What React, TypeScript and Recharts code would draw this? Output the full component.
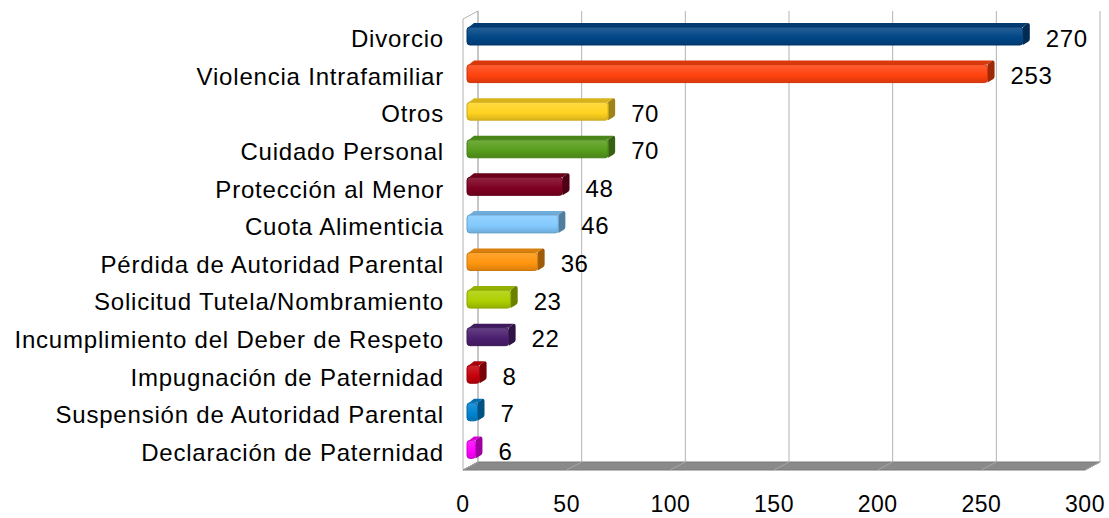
import React from "react";
import {
  BarChart,
  Bar,
  XAxis,
  YAxis,
  LabelList,
  ReferenceArea,
  ReferenceLine,
} from "recharts";

const categories = [
  "Divorcio",
  "Violencia Intrafamiliar",
  "Otros",
  "Cuidado Personal",
  "Protección al Menor",
  "Cuota Alimenticia",
  "Pérdida de Autoridad Parental",
  "Solicitud Tutela/Nombramiento",
  "Incumplimiento del Deber de Respeto",
  "Impugnación de Paternidad",
  "Suspensión de Autoridad Parental",
  "Declaración de Paternidad",
];

const values = [270, 253, 70, 70, 48, 46, 36, 23, 22, 8, 7, 6];

const colors = [
  "#004586",
  "#ff420e",
  "#ffd320",
  "#579d1c",
  "#7e0021",
  "#83caff",
  "#ff950e",
  "#aecf00",
  "#4b1f6f",
  "#c5000b",
  "#0084d1",
  "#ff00ff",
];

const xTicks = [0, 50, 100, 150, 200, 250, 300];

const FONT = "'Liberation Sans', Arial, sans-serif";
const DX = 15; // depth of the walls
const DY = 4;

const data = categories.map((name, i) => ({
  name,
  value: values[i],
  color: colors[i],
  key: "c" + i,
}));

function shade(hex: string, f: number) {
  const n = parseInt(hex.slice(1), 16);
  const r = (n >> 16) & 255;
  const g = (n >> 8) & 255;
  const b = n & 255;
  const mix = (c: number) =>
    f < 1 ? Math.round(c * f) : Math.round(c + (255 - c) * (f - 1));
  return `rgb(${mix(r)},${mix(g)},${mix(b)})`;
}

function Bar3D(props: any) {
  const { x, y, width, height, payload } = props;
  if (!payload) return null;
  const c = payload.color;
  const d = 7;
  const fx = x + 4;
  const fy = y + 4;
  const fw = Math.max(width - 4, 2);
  const fh = height - 4;
  const ex = fx + fw;
  const id = "g" + payload.key;
  return (
    <g>
      <defs>
        <linearGradient id={id} x1="0" y1="0" x2="0" y2="1">
          <stop offset="0%" stopColor={shade(c, 1.15)} />
          <stop offset="60%" stopColor={c} />
          <stop offset="100%" stopColor={shade(c, 0.85)} />
        </linearGradient>
      </defs>
      <polygon
        points={`${fx + 2},${fy} ${fx + d},${y} ${ex + d - 2},${y} ${ex},${fy}`}
        fill={shade(c, 0.85)}
      />
      <path
        d={`M${ex},${fy} L${ex + d - 2},${y} Q${ex + d},${y} ${ex + d},${y + 2} L${ex + d},${y + height - 6} Q${ex + d},${y + height - 4} ${ex + d - 2},${y + height - 3} L${ex},${y + height} Z`}
        fill={shade(c, 0.62)}
      />
      <rect
        x={fx}
        y={fy}
        width={fw}
        height={fh}
        rx={3}
        fill={`url(#${id})`}
        stroke={shade(c, 0.8)}
        strokeWidth={1}
      />
    </g>
  );
}

function Walls(props: any) {
  const { x, y, width, height } = props;
  const b = y + height;
  return (
    <g>
      <polygon
        points={`${x},${y + DY} ${x + DX},${y - DY} ${x + DX},${b - DY} ${x},${b + DY}`}
        fill="#ffffff"
        stroke="#b3b3b3"
        strokeWidth={1}
      />
      <polygon
        points={`${x},${b + DY} ${x + DX},${b - DY} ${x + width + DX},${b - DY} ${x + width},${b + DY}`}
        fill="#8a8a8a"
        stroke="#7a7a7a"
        strokeWidth={1}
      />
    </g>
  );
}

function GridLine(props: any) {
  const { x1, y1, x2, y2 } = props;
  const top = Math.min(y1, y2);
  const bot = Math.max(y1, y2);
  return (
    <g>
      <line
        x1={x1 + DX}
        y1={top - DY}
        x2={x2 + DX}
        y2={bot - DY}
        stroke="#b3b3b3"
        strokeWidth={1}
      />
      <line
        x1={x1}
        y1={bot + DY}
        x2={x1 + DX}
        y2={bot - DY}
        stroke="#a6a6a6"
        strokeWidth={1}
      />
    </g>
  );
}

function CategoryTick(props: any) {
  const { x, y, payload } = props;
  return (
    <text
      x={x}
      y={y + 5}
      dy="0.355em"
      textAnchor="end"
      fontFamily={FONT}
      fontSize={24}
      letterSpacing={0.8}
      fill="#000"
    >
      {payload.value}
    </text>
  );
}

function ValueLabel(props: any) {
  const { x, y, width, height, value } = props;
  return (
    <text
      x={x + width + 23}
      y={y + height / 2 + 4}
      dy="0.355em"
      textAnchor="start"
      fontFamily={FONT}
      fontSize={24}
      letterSpacing={0.6}
      fill="#000"
    >
      {value}
    </text>
  );
}

export default function App() {
  return (
    <div style={{ position: "absolute", left: 0, top: 0, background: "#fff" }}>
      <BarChart
        width={1109}
        height={518}
        data={data}
        layout="vertical"
        margin={{ top: 15, right: 24, left: 0, bottom: 0 }}
      >
        <ReferenceArea
          x1={0}
          x2={300}
          shape={<Walls />}
          ifOverflow="visible"
          zIndex={-60}
        />
        {xTicks.map((t) => (
          <ReferenceLine
            key={t}
            x={t}
            shape={<GridLine />}
            ifOverflow="visible"
            zIndex={-50}
          />
        ))}
        <XAxis
          type="number"
          domain={[0, 300]}
          ticks={xTicks}
          axisLine={false}
          tickLine={false}
          tickSize={0}
          tickMargin={30}
          height={52}
          tick={{ fill: "#000", fontSize: 23, fontFamily: FONT, letterSpacing: 0.5 }}
        />
        <YAxis
          type="category"
          dataKey="name"
          width={463}
          axisLine={false}
          tickLine={false}
          tickSize={0}
          tickMargin={19}
          interval={0}
          tick={<CategoryTick />}
        />
        <Bar
          dataKey="value"
          barSize={22}
          shape={<Bar3D />}
          isAnimationActive={false}
        >
          <LabelList dataKey="value" content={<ValueLabel />} />
        </Bar>
      </BarChart>
    </div>
  );
}
